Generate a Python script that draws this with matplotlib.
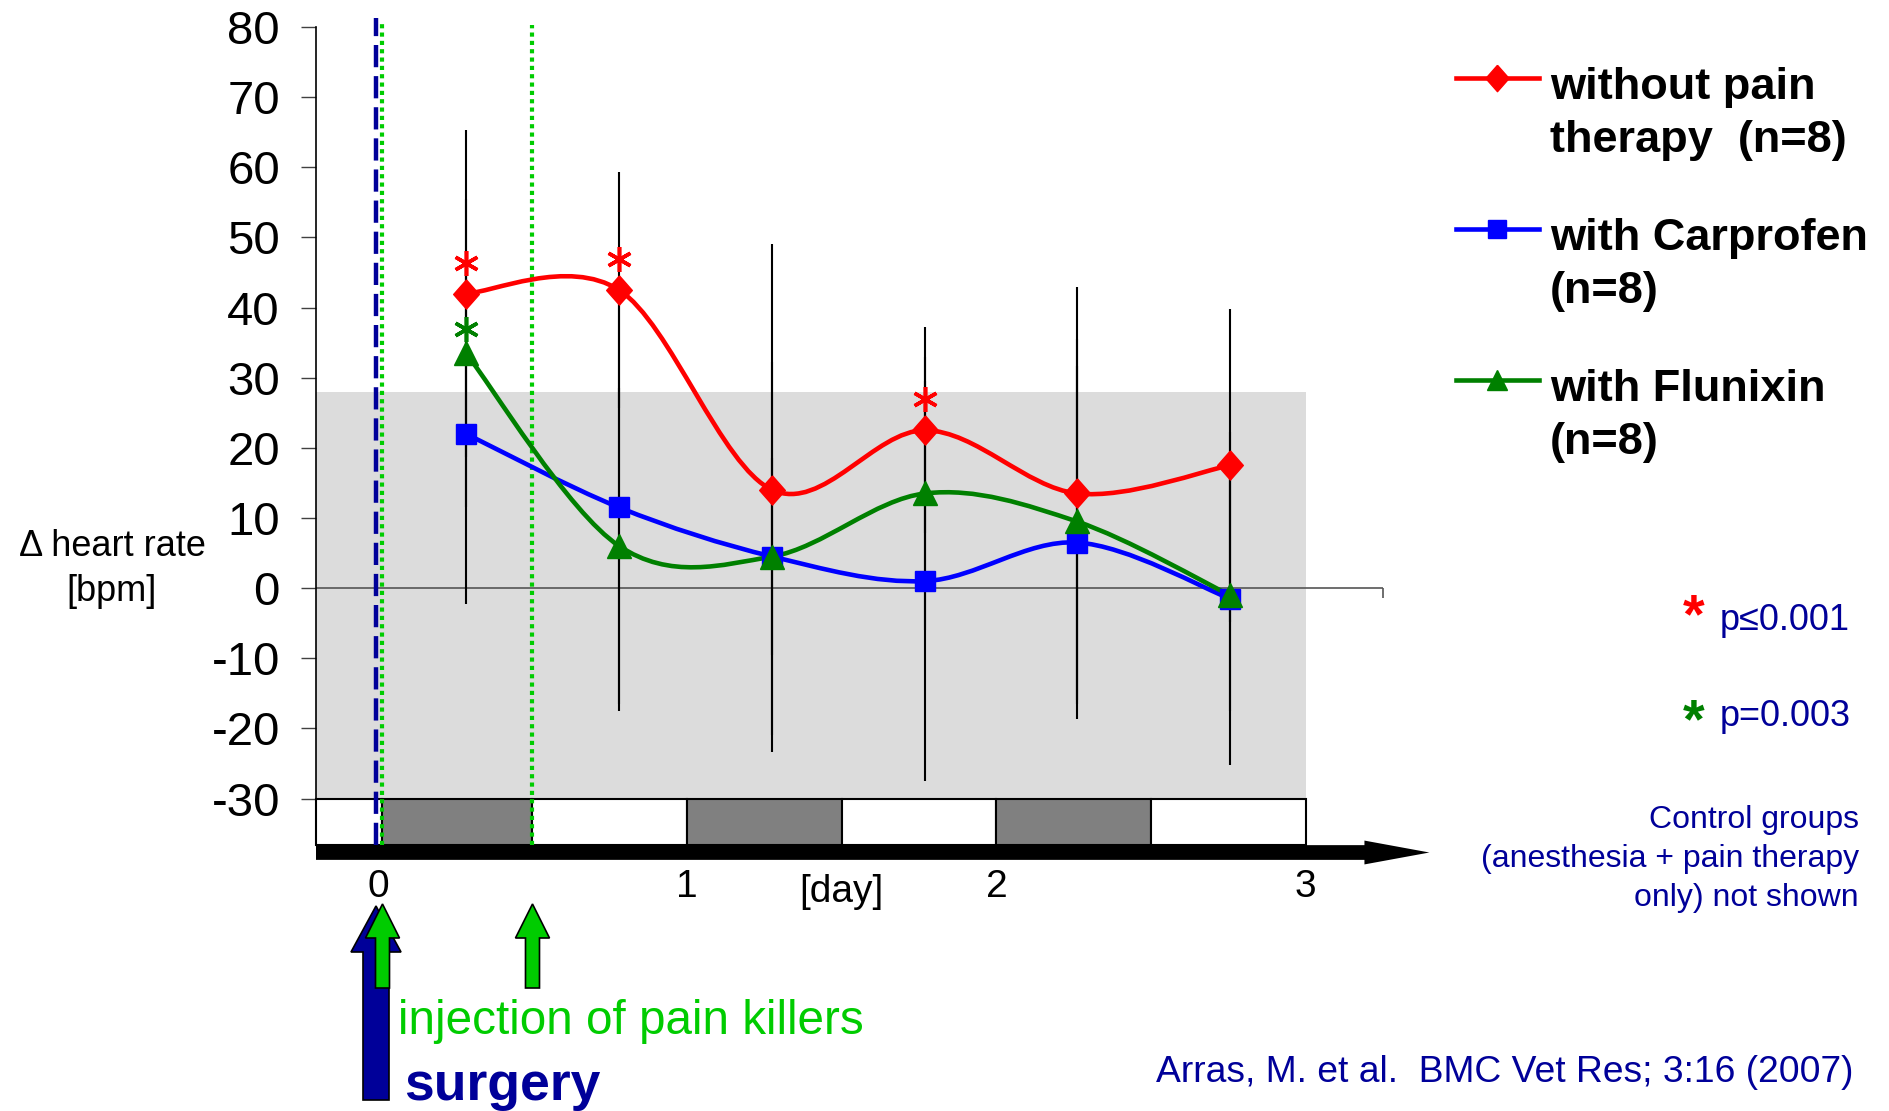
import numpy as np
import matplotlib
matplotlib.use('Agg')
import matplotlib.pyplot as plt
from matplotlib.path import Path
from matplotlib.patches import PathPatch, FancyArrow, Rectangle

plt.rcParams['font.family'] = ['Liberation Sans', 'DejaVu Sans']
plt.rcParams['axes.unicode_minus'] = False

# sampling times (days after surgery)
days = [0.285, 0.78, 1.275, 1.77, 2.26, 2.755]

# mean change of heart rate [bpm]
no_therapy = [42, 42.5, 14, 22.5, 13.5, 17.5]
carprofen = [22, 11.5, 4.5, 1, 6.5, -1.5]
flunixin = [33.5, 6, 4.5, 13.5, 9.5, -1]

# error bar half lengths
no_therapy_err = [23.3, 16.8, 35, 14.7, 29.5, 22.3]
carprofen_err = [24.2, 29, 27.8, 28.5, 25.2, 23.7]
flunixin_err = [22, 22.5, 14, 19.5, 26, 16.5]

# significant time points
sig_red = [0, 1, 3]
sig_green = [0]

labels = ['without pain\ntherapy  (n=8)', 'with Carprofen\n(n=8)', 'with Flunixin\n(n=8)']
day_ticks = [0, 1, 2, 3]
y_ticks = [-30, -20, -10, 0, 10, 20, 30, 40, 50, 60, 70, 80]

# light / dark phases under the axis
phase_edges = [-0.2, 0.015, 0.5, 1, 1.5, 2, 2.5, 3]
phase_colors = ['white', '#808080', 'white', '#808080', 'white', '#808080', 'white']

surgery_day = -0.006
injection_days = [0.015, 0.5]

NAVY = '#000099'
LGREEN = '#00cc00'


def smooth_path(x, y):
    # Excel style smoothed line: cubic bezier through the points
    pts = np.column_stack([x, y]).astype(float)
    n = len(pts)
    verts = [pts[0]]
    codes = [Path.MOVETO]
    for i in range(n - 1):
        p0 = pts[max(i - 1, 0)]
        p1 = pts[i]
        p2 = pts[i + 1]
        p3 = pts[min(i + 2, n - 1)]
        verts += [p1 + (p2 - p0) / 6, p2 - (p3 - p1) / 6, p2]
        codes += [Path.CURVE4] * 3
    return Path(verts, codes)


W, H = 1890, 1111
fig = plt.figure(figsize=(W / 100, H / 100), dpi=100)
ax = fig.add_axes([316 / W, (H - 798.5) / H, 1067 / W, (798.5 - 27) / H])
ax.set_xlim(-0.2, 3.25)
ax.set_ylim(-30, 80)

for s in ['top', 'right', 'bottom']:
    ax.spines[s].set_visible(False)
ax.spines['left'].set_linewidth(1.2)
ax.set_yticks(y_ticks)
ax.tick_params(axis='y', labelsize=34, length=11, width=1, color='#404040', pad=15)
ax.set_xticks(day_ticks)
ax.tick_params(axis='x', labelsize=28, length=0, pad=51)

# grey range background
ax.add_patch(Rectangle((-0.2, -30), 3.2, 58, facecolor='#dcdcdc', edgecolor='none', zorder=0))
ax.axhline(0, color='#555555', lw=1.2, zorder=1)
ax.vlines(3.25, -1.4, 0, color='#555555', lw=1.2, clip_on=False)

# day / night bar and time arrow
ax.bar(phase_edges[:-1], 6.6, width=np.diff(phase_edges), bottom=-36.6, align='edge',
       color=phase_colors, edgecolor='black', linewidth=1.5, clip_on=False, zorder=3)
ax.add_patch(FancyArrow(-0.2, -37.7, 3.6, 0, width=2.1, head_width=3.4, head_length=0.21,
                        length_includes_head=True, facecolor='black', edgecolor='none',
                        clip_on=False, zorder=3))
ax.text(1.5, -43.3, '[day]', ha='center', va='center', fontsize=28)

# surgery and injection markers
ax.vlines(surgery_day, -36.6, 81.3, colors=NAVY, lw=3.2, linestyles=(0, (5, 2)),
          clip_on=False, zorder=4)
ax.vlines(injection_days[0], -36.6, 81, colors=LGREEN, lw=3, linestyles=(0, (1, 1)),
          clip_on=False, zorder=4)
ax.vlines(injection_days[1], -36.6, 80.3, colors=LGREEN, lw=3, linestyles=(0, (1, 1)),
          clip_on=False, zorder=4)

diamond = [(0, 1), (0.88, 0), (0, -1), (-0.88, 0), (0, 1)]
series = [
    (no_therapy, no_therapy_err, 'red', diamond, 21),
    (carprofen, carprofen_err, 'blue', 's', 15),
    (flunixin, flunixin_err, 'green', '^', 17),
]

for vals, err, col, mk, ms in series:
    ax.errorbar(days, vals, yerr=err, fmt='none', ecolor='black', elinewidth=1.5, capsize=0, zorder=4)

for vals, err, col, mk, ms in series:
    ax.add_patch(PathPatch(smooth_path(days, vals), fill=False, edgecolor=col, lw=3.3, zorder=5,
                           capstyle='round', joinstyle='round'))
    ax.plot(days, vals, ls='none', marker=mk, ms=ms, color=col, mec=col, zorder=6)

ax.plot([days[i] for i in sig_red], [no_therapy[i] + 4.4 for i in sig_red], ls='none',
        marker=(6, 2, 0), ms=18, mew=2.6, color='red', zorder=6)
ax.plot([days[i] for i in sig_green], [flunixin[i] + 3.4 for i in sig_green], ls='none',
        marker=(6, 2, 0), ms=18, mew=2.6, color='green', zorder=6)

# overlay in figure pixels for annotations
ov = fig.add_axes([0, 0, 1, 1], zorder=10)
ov.set_xlim(0, W)
ov.set_ylim(H, 0)
ov.axis('off')

ov.text(112, 569, 'Δ heart rate\n[bpm]', ha='center', va='center', fontsize=26, linespacing=1.38)

# legend
leg_y = [78, 229, 380]
for (vals, err, col, mk, ms), lab, y in zip(series, labels, leg_y):
    ov.plot([1456, 1497, 1539], [y, y, y], color=col, lw=3.3, marker=mk, ms=ms - 2, markevery=[1])
    ov.text(1550, y - 11, lab, ha='left', va='top', fontsize=32.5, fontweight='bold',
            linespacing=1.36)

ov.text(1694, 632, '*', color='red', fontsize=40, fontweight='bold', ha='center', va='baseline')
ov.text(1720, 621, 'p≤0.001', color=NAVY, fontsize=26, ha='left', va='center')
ov.text(1694, 737, '*', color='green', fontsize=40, fontweight='bold', ha='center', va='baseline')
ov.text(1720, 717, 'p=0.003', color=NAVY, fontsize=26, ha='left', va='center')
ov.text(1859, 859, 'Control groups\n(anesthesia + pain therapy\nonly) not shown', color=NAVY,
        fontsize=23, ha='right', va='center', multialignment='right', linespacing=1.38)
ov.text(1853, 1072, 'Arras, M. et al.  BMC Vet Res; 3:16 (2007)', color=NAVY, fontsize=26.8,
        ha='right', va='center')

# arrows below the time axis
x0 = ax.transData.transform((surgery_day, 0))[0]
ov.add_patch(FancyArrow(x0, 1100, 0, -194, width=26, head_width=50, head_length=46,
                        length_includes_head=True, facecolor=NAVY, edgecolor='black', lw=1.2))
for d in injection_days:
    xi = ax.transData.transform((d, 0))[0]
    ov.add_patch(FancyArrow(xi, 988, 0, -84, width=14, head_width=34, head_length=34,
                            length_includes_head=True, facecolor=LGREEN, edgecolor='black', lw=1.2))

ov.text(398, 1034, 'injection of pain killers', color=LGREEN, fontsize=34.3, ha='left', va='baseline')
ov.text(404, 1100, 'surgery', color=NAVY, fontsize=38.5, fontweight='bold', ha='left', va='baseline')

fig.savefig('out.png', dpi=100)
